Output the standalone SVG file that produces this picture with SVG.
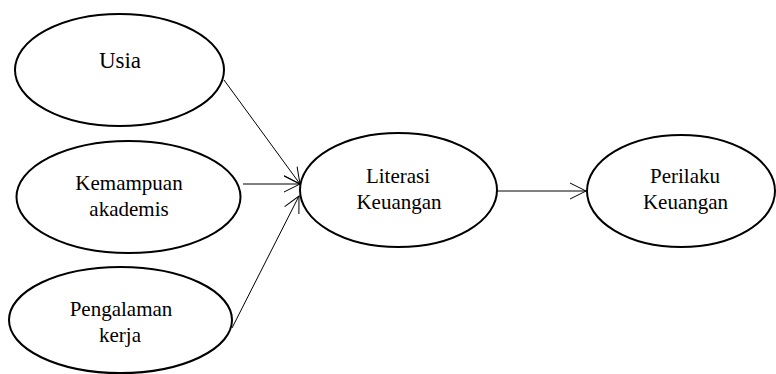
<svg xmlns="http://www.w3.org/2000/svg" width="776" height="374" viewBox="0 0 776 374">
<style>
.node ellipse{fill:#fff;stroke:#000;stroke-width:2}
.t{font-family:'Liberation Serif','Tinos','DejaVu Serif',serif;font-size:21px;fill:#000;text-anchor:middle}
.conn line{stroke:#000;stroke-width:1;fill:none}
</style>
<defs>
<marker id="arr" markerUnits="userSpaceOnUse" markerWidth="20" markerHeight="20" refX="16" refY="8" orient="auto" viewBox="0 0 20 16">
<path d="M0,0 L16,8 L0,16" fill="none" stroke="#000" stroke-width="1"/>
</marker>
</defs>
<rect width="776" height="374" fill="#fff"/>
<g class="conn">
<line x1="224" y1="80" x2="300" y2="184" marker-end="url(#arr)"/>
<line x1="243" y1="184" x2="300" y2="184" marker-end="url(#arr)"/>
<line x1="232" y1="328" x2="299" y2="196" marker-end="url(#arr)"/>
<line x1="497" y1="191" x2="586" y2="191" marker-end="url(#arr)"/>
</g>
<g id="usia" class="node">
<ellipse cx="119.5" cy="70" rx="104.5" ry="56"/>
<text class="t" x="120" y="68" font-family="Liberation Serif, serif" style="font-size:23px">Usia</text>
</g>
<g id="kemampuan" class="node">
<ellipse cx="128.5" cy="197" rx="112" ry="56"/>
<text class="t" x="129" y="190" font-family="Liberation Serif, serif">Kemampuan</text>
<text class="t" x="129" y="216" font-family="Liberation Serif, serif">akademis</text>
</g>
<g id="pengalaman" class="node">
<ellipse cx="120.5" cy="320" rx="111.5" ry="53"/>
<text class="t" x="121" y="316" font-family="Liberation Serif, serif">Pengalaman</text>
<text class="t" x="120" y="342" font-family="Liberation Serif, serif">kerja</text>
</g>
<g id="literasi" class="node">
<ellipse cx="398.5" cy="190" rx="98.5" ry="57"/>
<text class="t" x="398" y="183" font-family="Liberation Serif, serif">Literasi</text>
<text class="t" x="399" y="209" font-family="Liberation Serif, serif">Keuangan</text>
</g>
<g id="perilaku" class="node">
<ellipse cx="681" cy="191" rx="94" ry="56"/>
<text class="t" x="685" y="183" font-family="Liberation Serif, serif">Perilaku</text>
<text class="t" x="685.5" y="209" font-family="Liberation Serif, serif">Keuangan</text>
</g>
</svg>
